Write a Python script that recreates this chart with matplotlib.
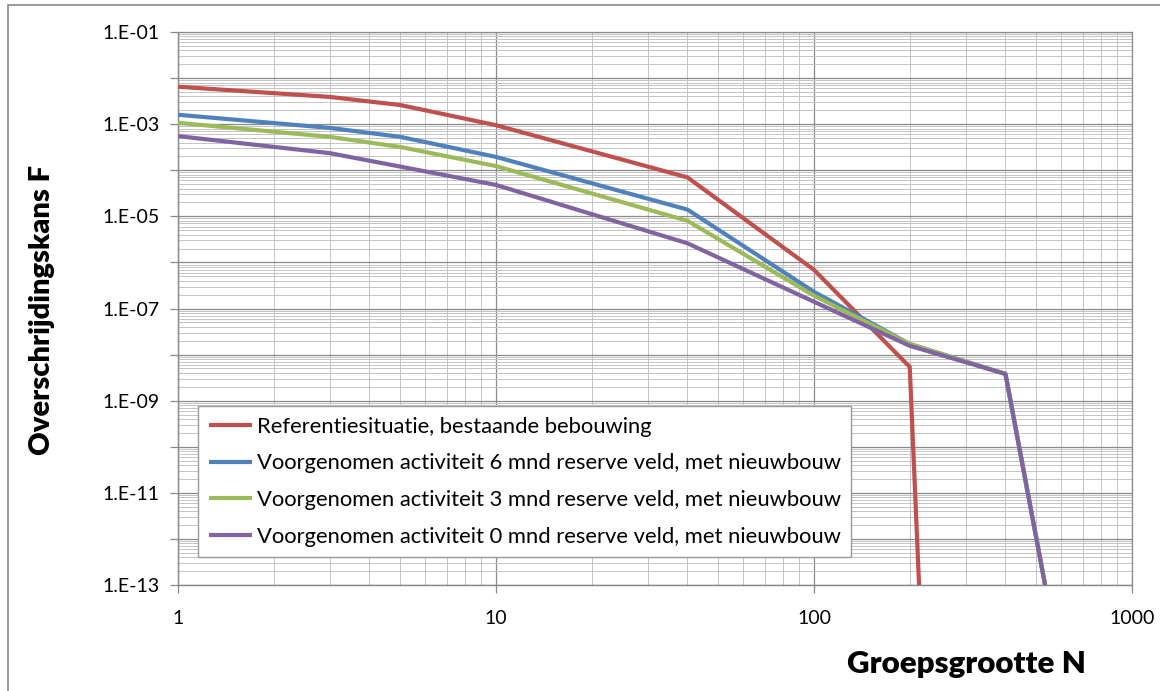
import matplotlib
matplotlib.use("Agg")
import matplotlib.pyplot as plt
from matplotlib.ticker import LogLocator, FuncFormatter, NullFormatter
from matplotlib.patches import Rectangle
import numpy as np

# ---- data ----
n_ref = [1, 3, 5, 10, 40, 100, 200, 214]
f_ref = [6.5e-3, 3.9e-3, 2.6e-3, 9.5e-4, 7.0e-5, 6.9e-7, 5.4e-9, 1.0e-13]

n_v6 = [1, 3, 5, 10, 40, 100, 200, 400, 533]
f_v6 = [1.6e-3, 8.3e-4, 5.3e-4, 1.95e-4, 1.4e-5, 2.3e-7, 1.7e-8, 3.8e-9, 1.0e-13]

n_v3 = [1, 3, 5, 10, 40, 100, 200, 400, 533]
f_v3 = [1.07e-3, 5.3e-4, 3.2e-4, 1.23e-4, 8.0e-6, 1.9e-7, 1.7e-8, 3.8e-9, 1.0e-13]

n_v0 = [1, 3, 5, 10, 40, 100, 200, 400, 533]
f_v0 = [5.5e-4, 2.35e-4, 1.2e-4, 4.8e-5, 2.6e-6, 1.4e-7, 1.55e-8, 3.8e-9, 1.0e-13]

labels = [
    "Referentiesituatie, bestaande bebouwing",
    "Voorgenomen activiteit 6 mnd reserve veld, met nieuwbouw",
    "Voorgenomen activiteit 3 mnd reserve veld, met nieuwbouw",
    "Voorgenomen activiteit 0 mnd reserve veld, met nieuwbouw",
]
colors = ["#C0504D", "#4F81BD", "#9BBB59", "#8064A2"]

x_label = "Groepsgrootte N"
y_label = "Overschrijdingskans F"

plt.rcParams['font.family'] = ['Lato', 'DejaVu Sans']

W, H = 1160, 691
fig = plt.figure(figsize=(W / 100, H / 100), dpi=100)
ax = fig.add_axes([178 / W, 1 - 585 / H, (1132 - 178) / W, (585 - 32) / H])

series = [(n_ref, f_ref), (n_v6, f_v6), (n_v3, f_v3), (n_v0, f_v0)]
for (n, f), lab, c in zip(series, labels, colors):
    ax.plot(n, f, color=c, lw=3.0, label=lab, solid_capstyle='butt', zorder=3)

ax.set_xscale('log')
ax.set_yscale('log')
ax.set_xlim(1, 1000)
ax.set_ylim(1e-13, 1e-1)

ax.yaxis.set_major_locator(LogLocator(base=10, numticks=20))
ax.yaxis.set_minor_locator(LogLocator(base=10, subs=np.arange(2, 10), numticks=100))


def yfmt(v, pos):
    e = int(round(np.log10(v)))
    if e % 2 == 0:
        return ""
    return f"1.E{e:+03d}"


ax.yaxis.set_major_formatter(FuncFormatter(yfmt))
ax.yaxis.set_minor_formatter(NullFormatter())
ax.xaxis.set_major_locator(LogLocator(base=10, numticks=10))
ax.xaxis.set_minor_locator(LogLocator(base=10, subs=np.arange(2, 10), numticks=100))
ax.xaxis.set_major_formatter(FuncFormatter(lambda v, p: f"{int(round(v))}"))
ax.xaxis.set_minor_formatter(NullFormatter())

ax.grid(which='major', color='#8a8a8a', lw=0.9)
ax.grid(which='minor', color='#c4c4c4', lw=0.7)
ax.set_axisbelow(True)

ax.tick_params(axis='both', which='major', length=6, color='#888888', labelsize=14,
               direction='out', width=0.9)
ax.tick_params(axis='x', which='major', pad=12)
ax.tick_params(axis='y', which='major', pad=7)
ax.tick_params(which='minor', length=0)

for s in ['left', 'bottom']:
    ax.spines[s].set_color('#888888')
    ax.spines[s].set_linewidth(1.0)
for s in ['top', 'right']:
    ax.spines[s].set_color('#8a8a8a')
    ax.spines[s].set_linewidth(0.9)

fig.text(966 / W, 1 - 664 / H, x_label, ha='center', va='center',
         fontsize=22.5, fontweight='heavy')
fig.text(42 / W, 1 - 310 / H, y_label, ha='center', va='center',
         fontsize=21, fontweight='heavy', rotation=90)

leg = ax.legend(loc='lower left', bbox_to_anchor=(0.021, 0.05), fontsize=15.8,
                frameon=True, fancybox=False, handlelength=2.0, handletextpad=0.2,
                labelspacing=0.76, borderpad=0.48, borderaxespad=0)
leg.get_frame().set_edgecolor('#999999')
leg.get_frame().set_linewidth(1.0)
leg.get_frame().set_facecolor('white')
leg.get_frame().set_alpha(1)

fig.add_artist(Rectangle((8 / W, -0.1), 1.2, 1.1 - 5 / H, transform=fig.transFigure,
                         fill=False, edgecolor='#888888', lw=1.2))

fig.savefig("out.png", dpi=100)
